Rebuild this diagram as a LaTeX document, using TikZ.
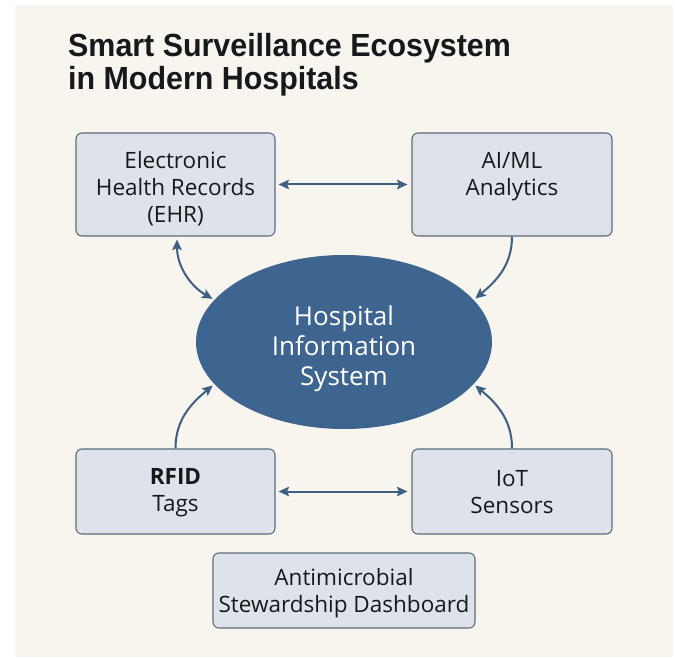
\documentclass[tikz,border=0pt]{standalone}
\usepackage{fontspec}
\setmainfont{Open Sans}
\newfontfamily\titlefont{Liberation Sans}[FakeStretch=0.95]
\usetikzlibrary{arrows.meta,shapes.geometric}

\definecolor{bgbeige}{HTML}{F8F4EE}
\definecolor{boxfill}{HTML}{DEE3EB}
\definecolor{boxline}{HTML}{5E6B7A}
\definecolor{hisblue}{HTML}{3E6590}
\definecolor{linkblue}{HTML}{3D5F84}
\definecolor{inktext}{HTML}{16191C}

\tikzset{
  >={Stealth[length=10.5pt,width=9.5pt,inset=2pt]},
  titletext/.style={anchor=base west, inner sep=0pt, text=inktext,
    font=\titlefont\bfseries\fontsize{32}{36}\selectfont},
  boxtext/.style={align=center, text=inktext, inner sep=0pt,
    font=\fontsize{22.5}{27}\selectfont},
  infobox/.style={draw=boxline, line width=1.1pt, fill=boxfill,
    rounded corners=6pt, inner sep=0pt},
  hub/.style={ellipse, fill=hisblue, inner sep=0pt,
    minimum width=296pt, minimum height=174pt},
  hubtext/.style={align=center, text=white, inner sep=0pt,
    font=\fontsize{26}{30}\selectfont},
  link/.style={draw=linkblue, line width=2pt},
}

\begin{document}
\begin{tikzpicture}[x=1pt,y=1pt]
  \useasboundingbox (0,0) rectangle (676,657);
  \fill[white] (0,0) rectangle (676,657);
  \fill[bgbeige] (15,0) rectangle (673,652);

  % heading
  \node[titletext] (title1) at (68,600.3) {Smart Surveillance Ecosystem};
  \node[titletext] (title2) at (68,567) {in Modern Hospitals};

  % data sources around the hub
  \node[infobox, minimum width=199pt, minimum height=103pt] (ehr) at (175.5,472.5) {};
  \node[boxtext] (ehrlabel) at (175.5,468.5) {Electronic\\Health Records\\(EHR)};
  \node[infobox, minimum width=200pt, minimum height=103pt] (ai) at (512,472.5) {};
  \node[boxtext] (ailabel) at (512,480.5) {AI/ML\\Analytics};
  \node[infobox, minimum width=199pt, minimum height=85pt] (rfid) at (175.5,165.5) {};
  \node[boxtext] (rfidlabel) at (175.5,164.5) {\textbf{RFID}\\Tags};
  \node[infobox, minimum width=200pt, minimum height=85pt] (iot) at (512,165.5) {};
  \node[boxtext] (iotlabel) at (512,164.5) {IoT\\Sensors};
  \node[infobox, minimum width=262pt, minimum height=75pt] (ams) at (344,66.5) {};
  \node[boxtext] (amslabel) at (344,63.5) {Antimicrobial\\Stewardship Dashboard};

  % central system
  \node[hub] (his) at (344,315) {};
  \node[hubtext] (hislabel) at (344,308) {Hospital\\Information\\System};

  % connections
  \draw[link,<->,shorten <=3pt,shorten >=4pt] (ehr) -- (ai);
  \draw[link,<->,shorten <=3pt,shorten >=4pt] (rfid) -- (iot);
  \draw[link,<->,shorten <=3pt,shorten >=2pt] ([xshift=1.5pt]ehr.south)
    to[out=-90,in=150] (his.162);
  \draw[link,->,shorten >=2pt] (ai.south) to[out=-90,in=40] (his.18);
  \draw[link,->,shorten >=2pt] (rfid.north) to[out=90,in=-140] (his.198);
  \draw[link,->,shorten >=2pt] (iot.north) to[out=90,in=-40] (his.-18);
\end{tikzpicture}
\end{document}
